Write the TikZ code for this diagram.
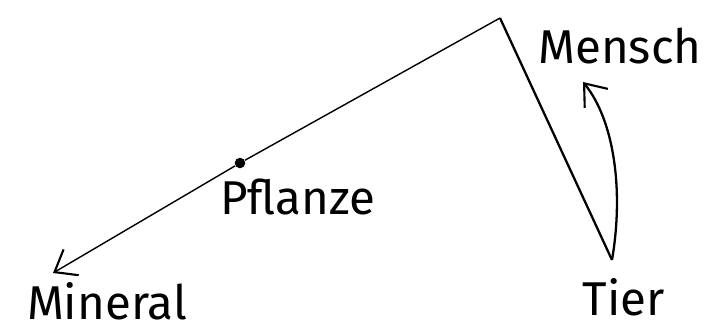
\documentclass[tikz,border=0pt]{standalone}
\usepackage{fontspec}
\setmainfont{Fira Sans}
\usetikzlibrary{arrows.meta}

\begin{document}
\begin{tikzpicture}[x=0.02cm,y=-0.02cm,
  word/.style={inner sep=0pt,font=\fontsize{27}{30}\selectfont},
  dot/.style={circle,fill,inner sep=0pt,minimum size=6pt},
  barb/.style={-{Straight Barb[length=11pt,width=17pt,line width=1.2pt]}}]
\useasboundingbox (0,0) rectangle (708,332);
% levels: Mineral -- Pflanze -- apex -- Tier -- Mensch
\coordinate (apex) at (500,18);
\coordinate (bend) at (612,260);
\coordinate (tip) at (53,273);
\node[dot] (p) at (240,163) {};
\node[word] (pflanze) at (298,197) {Pflanze};
\node[word] (mineral) at (107,301) {Mineral};
\node[word] (tier) at (624,297) {Tier};
\node[word] (mensch) at (620,46) {Mensch};
% thin line down to the mineral, thick line down to the animal
\draw[line width=0.8pt,barb] (apex) -- (p) -- (tip);
\draw[line width=1.3pt] (apex) -- (bend);
% curved arrow up to man
\draw[line width=1.3pt,barb] (bend) .. controls (624,190) and (614,120) .. (583,82);
\end{tikzpicture}
\end{document}
